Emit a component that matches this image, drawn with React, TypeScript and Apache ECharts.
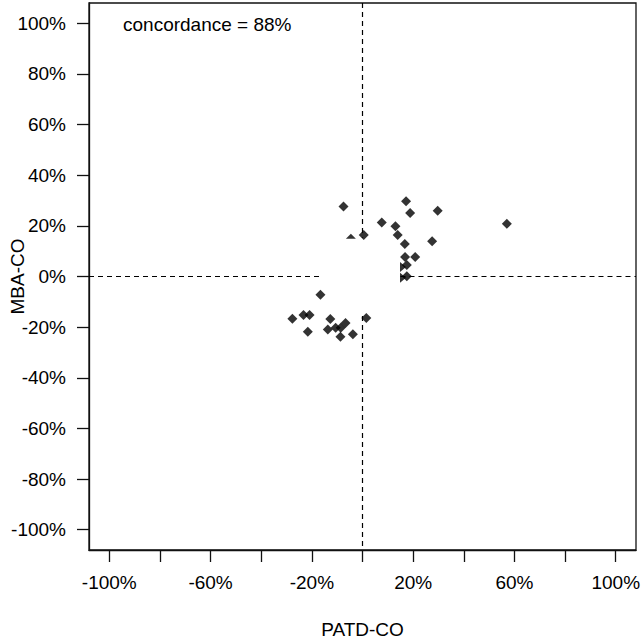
import React, { useEffect, useRef } from "react";
import * as echarts from "echarts";

// PATD-CO (x) and MBA-CO (y), in percent — fully visible points
const patdX = [-7.5, 17.2, 18.8, 29.7, 57.0, 7.6, 13.0, 13.9, 0.5, 27.5, 16.7, 16.8, 20.8, 17.5, 17.5,
  -16.6, -27.7, -23.3, -20.9, -21.6, -12.7, -13.7, -10.6, -8.6, -6.7, -8.7, -3.8, 1.5];
const mbaY = [27.6, 29.7, 25.1, 26.0, 20.8, 21.3, 19.8, 16.4, 16.4, 13.9, 12.8, 7.7, 7.7, 4.5, 0.1,
  -7.2, -16.7, -15.2, -15.2, -21.8, -16.8, -20.9, -20.2, -20.2, -18.4, -23.8, -22.8, -16.4];

// partly hidden points (only part of the marker shows)
const topHalfX = [-4.6];
const topHalfY = [15.9];
const rightHalfX = [16.0, 16.0];
const rightHalfY = [3.8, -0.5];

// tick values
const tickValues = [-100, -80, -60, -40, -20, 0, 20, 40, 60, 80, 100];
const xLabelValues = [-100, -60, -20, 20, 60, 100];
const yLabelValues = [-100, -80, -60, -40, -20, 0, 20, 40, 60, 80, 100];

// dashed reference segments [x1, y1, x2, y2]
const refSegments = [
  [0, 108, 0, 15.3],
  [0, -15.6, 0, -108],
  [-108, 0, -16.9, 0],
  [15, 0, 108, 0],
];

const FONT = "Liberation Sans, Arial, Helvetica, sans-serif";

export default function App() {
  const ref = useRef<HTMLDivElement>(null);
  useEffect(() => {
    if (!ref.current) return;
    const chart = echarts.init(ref.current, undefined, { renderer: "svg" });
    const pct = (v: number) => `${v}%`;
    chart.setOption({
      animation: false,
      backgroundColor: "#fff",
      textStyle: { fontFamily: FONT },
      grid: {
        left: 89,
        right: 6,
        top: 3,
        bottom: 89,
        containLabel: false,
        outerBoundsMode: "none",
        show: true,
        borderColor: "#111",
        borderWidth: 1.3,
        backgroundColor: "transparent",
      },
      xAxis: {
        type: "value",
        min: -108,
        max: 108,
        name: "PATD-CO",
        nameLocation: "middle",
        nameGap: 70,
        nameMoveOverlap: false,
        nameTextStyle: { fontSize: 19, color: "#000", fontFamily: FONT },
        axisLine: { show: true, onZero: false, lineStyle: { color: "#111", width: 1.3 } },
        axisTick: { show: true, length: 12, customValues: tickValues, lineStyle: { color: "#111", width: 1.3 } },
        axisLabel: { customValues: xLabelValues, formatter: pct, fontSize: 19, color: "#000", margin: 23, fontFamily: FONT },
        splitLine: { show: false },
      },
      yAxis: {
        type: "value",
        min: -108,
        max: 108,
        name: "MBA-CO",
        nameLocation: "middle",
        nameRotate: 90,
        nameGap: 62,
        nameMoveOverlap: false,
        nameTextStyle: { fontSize: 19, color: "#000", fontFamily: FONT },
        axisLine: { show: true, onZero: false, lineStyle: { color: "#111", width: 1.3 } },
        axisTick: { show: true, length: 12, customValues: tickValues, lineStyle: { color: "#111", width: 1.3 } },
        axisLabel: { customValues: yLabelValues, formatter: pct, fontSize: 19, color: "#000", margin: 23, fontFamily: FONT },
        splitLine: { show: false },
      },
      graphic: [
        {
          type: "text",
          left: 123,
          top: 15,
          style: { text: "concordance = 88%", font: `19px ${FONT}`, fill: "#000" },
        },
      ],
      series: [
        {
          type: "scatter",
          symbol: "diamond",
          symbolSize: 10,
          itemStyle: { color: "#000" },
          data: patdX.map((x, i) => [x, mbaY[i]]),
          markLine: {
            silent: true,
            symbol: "none",
            label: { show: false },
            lineStyle: { color: "#000", width: 1.2, type: [5, 4] },
            data: refSegments.map((s) => [{ coord: [s[0], s[1]] }, { coord: [s[2], s[3]] }]),
          },
        },
        {
          type: "scatter",
          symbol: "triangle",
          symbolSize: [10, 5],
          itemStyle: { color: "#000" },
          data: topHalfX.map((x, i) => [x, topHalfY[i]]),
        },
        {
          type: "scatter",
          symbol: "path://M0,0L1,1L0,2Z",
          symbolSize: [6, 10],
          itemStyle: { color: "#000" },
          data: rightHalfX.map((x, i) => [x, rightHalfY[i]]),
        },
      ],
    });
    return () => chart.dispose();
  }, []);
  return <div ref={ref} style={{ position: "absolute", left: 0, top: 0, width: 642, height: 639 }} />;
}
